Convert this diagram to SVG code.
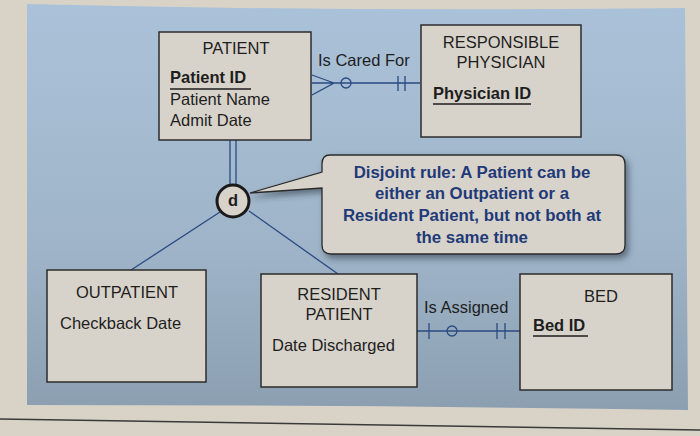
<svg xmlns="http://www.w3.org/2000/svg" width="700" height="436" viewBox="0 0 700 436">
<defs>
<linearGradient id="panel" x1="0" y1="0" x2="0" y2="1">
<stop offset="0" stop-color="#aac2d9"/>
<stop offset="0.6" stop-color="#9fb4c8"/>
<stop offset="1" stop-color="#8b9fb1"/>
</linearGradient>
<filter id="sh" x="-10%" y="-10%" width="125%" height="130%">
<feDropShadow dx="3" dy="4" stdDeviation="3" flood-color="#2a3440" flood-opacity="0.55"/>
</filter>
<style>
.box{fill:#d8d3ca;stroke:#2c2c2c;stroke-width:1.5}
.t{font-family:"Liberation Sans",Arial,sans-serif;font-size:16.5px;fill:#1e1e1e}
.c{text-anchor:middle}
.b{font-weight:bold}
.ln{stroke:#2a4a82;stroke-width:1.3;fill:none}
.ul{stroke:#1e1e1e;stroke-width:1.5}
.note{font-family:"Liberation Sans",Arial,sans-serif;font-size:16.8px;font-weight:bold;fill:#1f3a78;text-anchor:middle}
</style>
</defs>
<rect x="0" y="0" width="700" height="436" fill="#d9d3c7"/>
<path d="M27 4 Q350 12 685 8 L688 410 Q350 405 27 405 Z" fill="url(#panel)"/>
<path d="M0 419 Q350 424 700 430" stroke="#3a3a3a" stroke-width="1.3" fill="none"/>

<g id="connectors">
<line class="ln" x1="230" y1="140" x2="230" y2="185"/>
<line class="ln" x1="236" y1="140" x2="236" y2="185"/>
<line class="ln" x1="220" y1="212" x2="128" y2="272"/>
<line class="ln" x1="249" y1="211" x2="338" y2="274"/>
<path class="ln" d="M312 75 L334 83 L312 95 M312 83 L420 83"/>
<circle class="ln" cx="346" cy="83" r="5" fill="#a8bfd6"/>
<path class="ln" d="M398 76 V91 M405 76 V91"/>
<line class="ln" x1="417" y1="331" x2="520" y2="331"/>
<path class="ln" d="M429 323 V339 M497 323 V339 M505 323 V339"/>
<circle class="ln" cx="452" cy="331" r="5" fill="#9db2c6"/>
<text class="t" x="318" y="66">Is Cared For</text>
<text class="t" x="424" y="313">Is Assigned</text>
</g>

<g id="patient">
<rect class="box" x="159" y="32" width="152" height="108"/>
<text class="t c" x="236" y="54">PATIENT</text>
<text class="t b" x="170" y="83">Patient ID</text>
<line class="ul" x1="170" y1="89" x2="251" y2="89"/>
<text class="t" x="170" y="105">Patient Name</text>
<text class="t" x="170" y="126">Admit Date</text>
</g>

<g id="physician">
<rect class="box" x="421" y="25" width="160" height="112"/>
<text class="t c" x="501" y="48">RESPONSIBLE</text>
<text class="t c" x="501" y="68">PHYSICIAN</text>
<text class="t b" x="433" y="99">Physician ID</text>
<line class="ul" x1="433" y1="104" x2="531" y2="104"/>
</g>

<g id="disjoint">
<circle cx="233" cy="201" r="16" fill="#d8d3ca" stroke="#1a1a1a" stroke-width="3"/>
<text class="t c b" x="233" y="206" font-size="14">d</text>
</g>

<g id="note">
<path d="M330 155 H616 Q625 155 625 164 V245 Q625 254 616 254 H331 Q322 254 322 245 V188 L250 193 L322 172 V164 Q322 155 330 155 Z" fill="#d8d3ca" stroke="#2a2a2a" stroke-width="1.3" filter="url(#sh)"/>
<text class="note" x="472" y="178">Disjoint rule: A Patient can be</text>
<text class="note" x="472" y="199">either an Outpatient or a</text>
<text class="note" x="472" y="221">Resident Patient, but not both at</text>
<text class="note" x="472" y="243">the same time</text>
</g>

<g id="outpatient">
<rect class="box" x="47" y="270" width="159" height="112"/>
<text class="t c" x="127" y="298">OUTPATIENT</text>
<text class="t" x="60" y="329">Checkback Date</text>
</g>

<g id="resident">
<rect class="box" x="261" y="274" width="156" height="113"/>
<text class="t c" x="339" y="300">RESIDENT</text>
<text class="t c" x="339" y="320">PATIENT</text>
<text class="t" x="272" y="351">Date Discharged</text>
</g>

<g id="bed">
<rect class="box" x="520" y="274" width="152" height="116"/>
<text class="t c" x="601" y="302">BED</text>
<text class="t b" x="533" y="331">Bed ID</text>
<line class="ul" x1="533" y1="336" x2="588" y2="336"/>
</g>
</svg>
